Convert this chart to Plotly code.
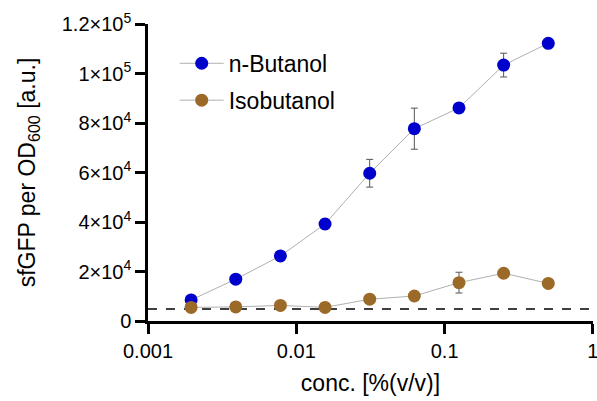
import plotly.graph_objects as go

# Concentrations (% v/v), two-fold dilution series
conc = [0.001953, 0.003906, 0.0078125, 0.015625, 0.03125, 0.0625, 0.125, 0.25, 0.5]

# sfGFP fluorescence normalised to OD600 (mean and SD)
butanol_mean = [8500, 16900, 26300, 39200, 59700, 77700, 86100, 103400, 112200]
butanol_sd = [600, 800, 800, 2000, 5600, 8300, 900, 4800, 1800]
isobutanol_mean = [5500, 5700, 6300, 5500, 8800, 10100, 15500, 19300, 15200]
isobutanol_sd = [400, 400, 500, 400, 1500, 1100, 4200, 900, 700]

# Background level (no-alcohol control)
baseline = 4850

y_ticks = [0, 20000, 40000, 60000, 80000, 100000, 120000]
y_ticktext = ["0", "2×10<sup>4</sup>", "4×10<sup>4</sup>", "6×10<sup>4</sup>",
              "8×10<sup>4</sup>", "1×10<sup>5</sup>", "1.2×10<sup>5</sup>"]
x_ticks = [0.001, 0.01, 0.1, 1]
x_ticktext = ["0.001", "0.01", "0.1", "1"]

FONT = "Liberation Sans, Arial, sans-serif"

fig = go.Figure()


def add_series(name, y, sd, color, group):
    fig.add_trace(go.Scatter(
        x=conc, y=y, name=name, mode="lines+markers",
        legendgroup=group,
        line=dict(color="#b0b0b0", width=1),
        marker=dict(color=color, size=13),
        error_y=dict(type="data", array=sd, visible=True,
                     color="#555555", thickness=1, width=3.5),
        cliponaxis=False,
    ))


add_series("n-Butanol", butanol_mean, butanol_sd, "#0000cc", "a")
add_series("Isobutanol", isobutanol_mean, isobutanol_sd, "#9c6a28", "b")

fig.add_shape(type="line", xref="x", yref="y", x0=0.001, x1=1,
              y0=baseline, y1=baseline,
              line=dict(color="black", width=1.3, dash="dash"), layer="below")

fig.update_layout(
    width=597, height=401,
    margin=dict(l=148, r=4, t=24, b=80, autoexpand=False),
    paper_bgcolor="white", plot_bgcolor="white",
    font=dict(family=FONT, color="black"),
    showlegend=True,
    legend=dict(x=0.060, y=0.94, xanchor="left", yanchor="top",
                font=dict(size=23, family=FONT), tracegroupgap=4,
                itemwidth=44,
                bgcolor="rgba(0,0,0,0)"),
    xaxis=dict(
        type="log", range=[-3, 0.0005],
        tickvals=x_ticks, ticktext=x_ticktext,
        ticklabeloverflow="allow", automargin=False,
        ticks="outside", ticklen=10, tickwidth=2.5, tickcolor="black",
        showline=True, linewidth=2.5, linecolor="black",
        showgrid=False, zeroline=False,
        tickfont=dict(size=20, family=FONT),
        title=dict(text="conc. [%(v/v)]", font=dict(size=23, family=FONT), standoff=15),
    ),
    yaxis=dict(
        range=[0, 120000],
        tickvals=y_ticks, ticktext=y_ticktext,
        ticks="outside", ticklen=10, tickwidth=2.5, tickcolor="black",
        showline=True, linewidth=2.5, linecolor="black",
        showgrid=False, zeroline=False, automargin=False,
        tickfont=dict(size=20, family=FONT),
        title=dict(text="sfGFP per OD<sub>600</sub> [a.u.]",
                   font=dict(size=23, family=FONT), standoff=20),
    ),
)

fig.write_html("out.html")
